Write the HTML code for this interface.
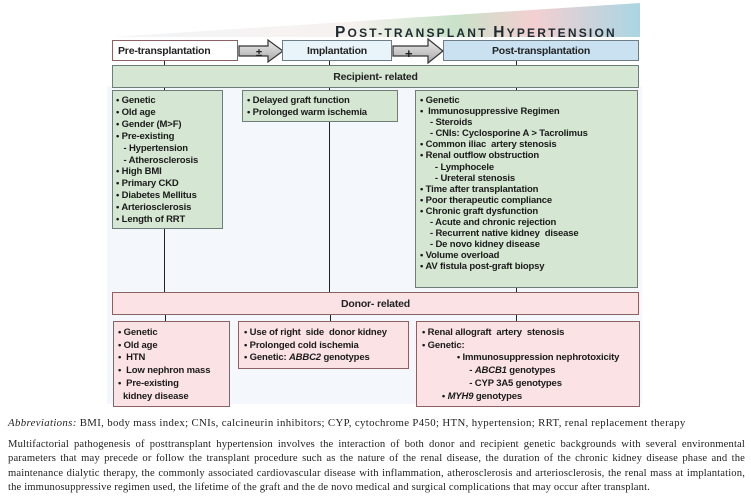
<!DOCTYPE html>
<html><head><meta charset="utf-8"><style>
body{margin:0;width:751px;height:501px;background:#fff;position:relative;overflow:hidden;font-family:"Liberation Sans",sans-serif}
.a{position:absolute;box-sizing:border-box}
.t{font-weight:bold;font-size:9.5px;letter-spacing:-0.15px;color:#1a1a1a;white-space:pre;line-height:11.9px}
.g{background:#d5e7d2;border:1.3px solid #6d7d78}
.p{background:#fbe3e5;border:1.3px solid #8c6164}
.hd{font-weight:bold;font-size:10.5px;color:#222;text-align:center;letter-spacing:-0.2px}
.vl{position:absolute;width:1.4px;background:#222}
.par{position:absolute;left:8px;width:737px;font-family:"Liberation Serif",serif;font-size:10.6px;letter-spacing:0.15px;color:#222;line-height:14.4px}
.j{text-align:justify;text-align-last:justify;white-space:nowrap;overflow:visible}
</style></head><body>
<div class="a" style="left:107px;top:86px;width:535px;height:318px;background:#f4f7fb"></div>
<svg class="a" style="left:0;top:0" width="751" height="100">
<defs><linearGradient id="w" x1="0" x2="1" y1="0" y2="0">
<stop offset="0" stop-color="#f2f5f7"/><stop offset="0.45" stop-color="#f7f2f0"/><stop offset="0.65" stop-color="#c9e2c8"/><stop offset="0.8" stop-color="#f3cfd1"/><stop offset="1" stop-color="#a9d6e3"/></linearGradient>
<linearGradient id="ar" x1="0" x2="0" y1="0" y2="1"><stop offset="0" stop-color="#ededed"/><stop offset="1" stop-color="#a8a8a8"/></linearGradient></defs>
<polygon points="112,37 640,3 640,37" fill="url(#w)"/>
<text x="335" y="37" font-family="Liberation Sans" font-weight="bold" font-size="15.5" letter-spacing="2.2" fill="#1e2a30">P<tspan font-size="12">OST-TRANSPLANT </tspan>H<tspan font-size="12">YPERTENSION</tspan></text>
<polygon points="239,46 268,46 268,40 283,51 268,62 268,56 239,56" fill="url(#ar)" stroke="#333" stroke-width="1.2"/>
<text x="256" y="56" font-size="11" font-weight="bold" fill="#222" font-family="Liberation Sans">±</text>
<polygon points="393,46 428,46 428,39 443,51 428,63 428,56 393,56" fill="url(#ar)" stroke="#333" stroke-width="1.2"/>
<text x="405" y="58" font-size="13" font-weight="bold" fill="#222" font-family="Liberation Sans">+</text>
</svg>
<div class="a hd" style="left:112px;top:40px;width:126px;height:21px;border:1.3px solid #8c6164;background:#fff;text-align:left;padding:4px 0 0 5px">Pre-transplantation</div>
<div class="a hd" style="left:282px;top:40px;width:110px;height:21px;border:1.3px solid #6d7d88;background:#e9f4fa;padding-top:4px">Implantation</div>
<div class="a hd" style="left:443px;top:40px;width:196px;height:21px;border:1.3px solid #6d7d88;background:#c9e1f1;padding-top:4px">Post-transplantation</div>
<div class="vl" style="left:164px;top:61px;height:231px"></div>
<div class="vl" style="left:329px;top:61px;height:231px"></div>
<div class="vl" style="left:516px;top:61px;height:5px"></div>
<div class="vl" style="left:516px;top:86px;height:5px"></div>
<div class="vl" style="left:516px;top:287px;height:6px"></div>
<div class="vl" style="left:165px;top:314px;height:7px"></div>
<div class="vl" style="left:330px;top:314px;height:7px"></div>
<div class="vl" style="left:516px;top:314px;height:7px"></div>
<div class="a g hd" style="left:112px;top:65px;width:527px;height:23px;padding-top:5px">Recipient- related</div>
<div class="a g t" style="left:112px;top:90px;width:111px;height:139px;padding:4px 0 0 3px">• Genetic
• Old age
• Gender (M>F)
• Pre-existing
   - Hypertension
   - Atherosclerosis
• High BMI
• Primary CKD
• Diabetes Mellitus
• Arteriosclerosis
• Length of RRT</div>
<div class="a g t" style="left:242px;top:90px;width:156px;height:32px;padding:4px 0 0 4px">• Delayed graft function
• Prolonged warm ischemia</div>
<div class="a g t" style="left:415px;top:90px;width:223px;height:198px;padding:4px 0 0 4px;line-height:11.1px">• Genetic
•  Immunosuppressive Regimen
    - Steroids
    - CNIs: Cyclosporine A > Tacrolimus
• Common iliac  artery stenosis
• Renal outflow obstruction
      - Lymphocele
      - Ureteral stenosis
• Time after transplantation
• Poor therapeutic compliance
• Chronic graft dysfunction
    - Acute and chronic rejection
    - Recurrent native kidney  disease
    - De novo kidney disease
• Volume overload
• AV fistula post-graft biopsy</div>
<div class="a p hd" style="left:112px;top:292px;width:527px;height:23px;padding-top:5px">Donor- related</div>
<div class="a p t" style="left:113px;top:321px;width:117px;height:86px;padding:5px 0 0 4px;line-height:12.7px">• Genetic
• Old age
•  HTN
•  Low nephron mass
•  Pre-existing
  kidney disease</div>
<div class="a p t" style="left:238px;top:321px;width:171px;height:48px;padding:5px 0 0 5px;line-height:12.7px">• Use of right  side  donor kidney
• Prolonged cold ischemia
• Genetic: <i>ABBC2</i> genotypes</div>
<div class="a p t" style="left:416px;top:321px;width:224px;height:86px;padding:5px 0 0 5px;line-height:12.7px">• Renal allograft  artery  stenosis
• Genetic:
              • Immunosuppression nephrotoxicity
                   - <i>ABCB1</i> genotypes
                   - CYP 3A5 genotypes
        • <i>MYH9</i> genotypes</div>
<div class="par" style="top:416px;font-size:10.8px;letter-spacing:0.35px"><i>Abbreviations:</i> BMI, body mass index; CNIs, calcineurin inhibitors; CYP, cytochrome P450; HTN, hypertension; RRT, renal replacement therapy</div>
<div class="par" style="top:438px">
<div class="j">Multifactorial pathogenesis of posttransplant hypertension involves the interaction of both donor and recipient genetic backgrounds with several environmental</div>
<div class="j">parameters that may precede or follow the transplant procedure such as the nature of the renal disease, the duration of the chronic kidney disease phase and the</div>
<div class="j">maintenance dialytic therapy, the commonly associated cardiovascular disease with inflammation, atherosclerosis and arteriosclerosis, the renal mass at implantation,</div>
<div>the immunosuppressive regimen used, the lifetime of the graft and the de novo medical and surgical complications that may occur after transplant.</div>
</div>
</body></html>
